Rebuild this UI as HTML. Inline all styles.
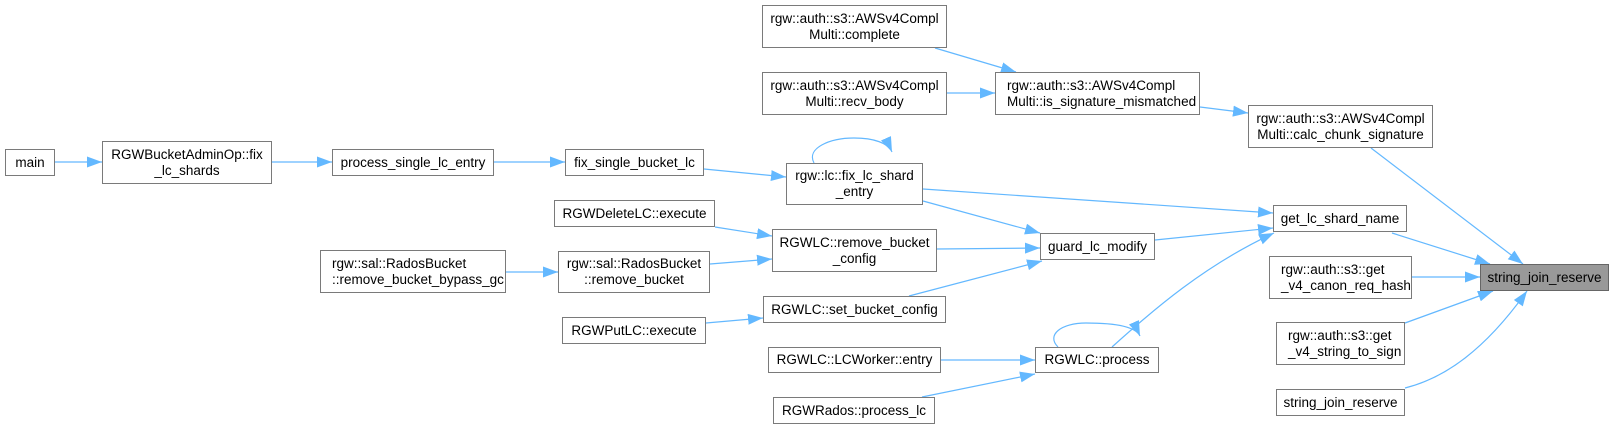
<!DOCTYPE html>
<html><head><meta charset="utf-8"><style>
body{margin:0;background:#fff;width:1614px;height:429px;position:relative;overflow:hidden;font-family:"Liberation Sans",Arial,sans-serif}
.b{position:absolute;box-sizing:border-box;border:1px solid #7a7a7a;background:#fff;font-size:13.5px;line-height:16px;color:#000;display:flex;align-items:center;justify-content:center;text-align:center;white-space:nowrap}
.g{background:#999;border-color:#666}
svg{position:absolute;left:0;top:0}
</style></head><body>
<svg width="1614" height="429" viewBox="0 0 1614 429">
<defs><marker id="a" markerUnits="userSpaceOnUse" markerWidth="16" markerHeight="12" refX="15" refY="5.5" orient="auto"><path d="M0,0 L15,5.5 L0,11 Z" fill="#63b8ff"/></marker></defs>
<g stroke="#63b8ff" stroke-width="1.2" fill="none" marker-end="url(#a)">
<path d="M55,162 L102,162"/>
<path d="M272,162 L332,162"/>
<path d="M494,162 L565,162"/>
<path d="M704,169 L786,177"/>
<path d="M814,163 C806,148 830,138 854,138 C874,138 888,143 892,152"/>
<path d="M923,189 L1273,213"/>
<path d="M923,201 L1040,233"/>
<path d="M715,227 L772,236"/>
<path d="M710,264 L772,259"/>
<path d="M506,272 L558,272"/>
<path d="M937,249 L1040,248"/>
<path d="M909,296 L1042,261"/>
<path d="M706,323 L763,318"/>
<path d="M941,360 L1035,360"/>
<path d="M922,397 L1035,374"/>
<path d="M1058,347 C1046,335 1061,323 1086,323 C1117,323 1136,327 1140,336"/>
<path d="M1112,347 C1153,310 1205,265 1274,233"/>
<path d="M1155,240 L1273,228"/>
<path d="M1200,107 L1248,113"/>
<path d="M935,48 L1016,72"/>
<path d="M947,93 L995,93"/>
<path d="M1371,148 L1523,264"/>
<path d="M1392,233 L1490,264"/>
<path d="M1412,277 L1480,277"/>
<path d="M1405,323 L1493,291"/>
<path d="M1405,388 C1445,378 1485,350 1527,291"/>
</g></svg>
<div class="b" style="left:5px;top:149px;width:50px;height:27px">main</div>
<div class="b" style="left:102px;top:141px;width:170px;height:43px">RGWBucketAdminOp::fix<br>_lc_shards</div>
<div class="b" style="left:332px;top:149px;width:162px;height:27px">process_single_lc_entry</div>
<div class="b" style="left:320px;top:250px;width:186px;height:43px;justify-content:flex-start;text-align:left;padding-left:11px">rgw::sal::RadosBucket<br>::remove_bucket_bypass_gc</div>
<div class="b" style="left:762px;top:5px;width:185px;height:43px">rgw::auth::s3::AWSv4Compl<br>Multi::complete</div>
<div class="b" style="left:762px;top:72px;width:185px;height:43px">rgw::auth::s3::AWSv4Compl<br>Multi::recv_body</div>
<div class="b" style="left:995px;top:72px;width:205px;height:43px;justify-content:flex-start;text-align:left;padding-left:11px">rgw::auth::s3::AWSv4Compl<br>Multi::is_signature_mismatched</div>
<div class="b" style="left:565px;top:149px;width:139px;height:27px">fix_single_bucket_lc</div>
<div class="b" style="left:786px;top:163px;width:137px;height:42px">rgw::lc::fix_lc_shard<br>_entry</div>
<div class="b" style="left:554px;top:200px;width:161px;height:27px">RGWDeleteLC::execute</div>
<div class="b" style="left:772px;top:229px;width:165px;height:43px">RGWLC::remove_bucket<br>_config</div>
<div class="b" style="left:558px;top:251px;width:152px;height:42px">rgw::sal::RadosBucket<br>::remove_bucket</div>
<div class="b" style="left:763px;top:296px;width:183px;height:27px">RGWLC::set_bucket_config</div>
<div class="b" style="left:562px;top:317px;width:144px;height:27px">RGWPutLC::execute</div>
<div class="b" style="left:768px;top:347px;width:173px;height:26px">RGWLC::LCWorker::entry</div>
<div class="b" style="left:773px;top:397px;width:162px;height:27px">RGWRados::process_lc</div>
<div class="b" style="left:1040px;top:233px;width:115px;height:27px">guard_lc_modify</div>
<div class="b" style="left:1035px;top:347px;width:124px;height:26px">RGWLC::process</div>
<div class="b" style="left:1248px;top:105px;width:185px;height:43px">rgw::auth::s3::AWSv4Compl<br>Multi::calc_chunk_signature</div>
<div class="b" style="left:1273px;top:205px;width:134px;height:27px">get_lc_shard_name</div>
<div class="b" style="left:1269px;top:256px;width:143px;height:43px;justify-content:flex-start;text-align:left;padding-left:11px">rgw::auth::s3::get<br>_v4_canon_req_hash</div>
<div class="b" style="left:1276px;top:322px;width:129px;height:43px;justify-content:flex-start;text-align:left;padding-left:11px">rgw::auth::s3::get<br>_v4_string_to_sign</div>
<div class="b" style="left:1276px;top:389px;width:129px;height:27px">string_join_reserve</div>
<div class="b g" style="left:1480px;top:264px;width:129px;height:27px">string_join_reserve</div>
</body></html>
